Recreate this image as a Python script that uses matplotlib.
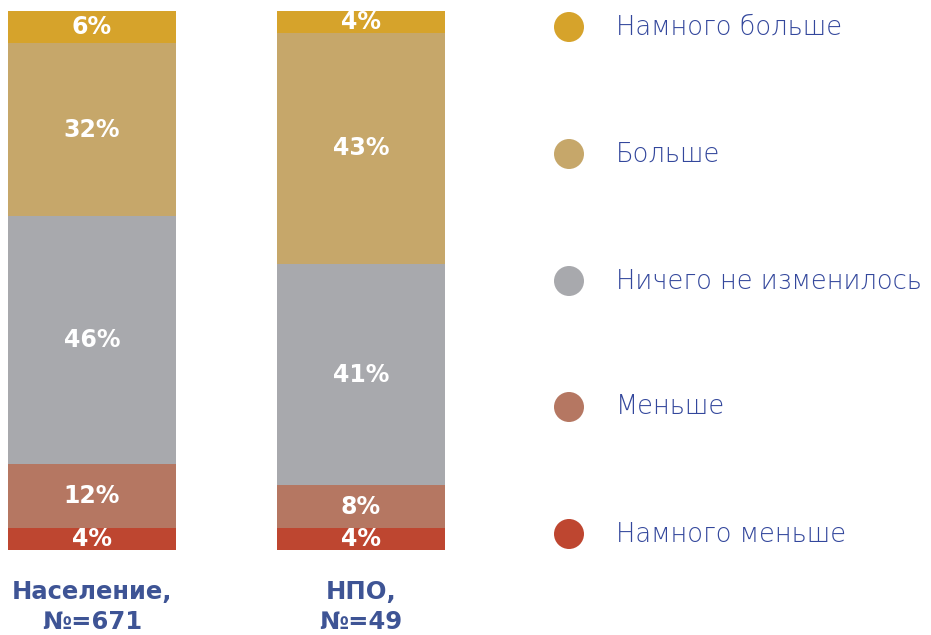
import matplotlib.pyplot as plt
from matplotlib.patches import Ellipse

plt.rcParams['font.family'] = ['DejaVu Sans']

groups = ["Население,\n№=671", "НПО,\n№=49"]
categories = ["Намного меньше", "Меньше", "Ничего не изменилось", "Больше", "Намного больше"]
colors = ["#BE4630", "#B57762", "#A8A9AD", "#C6A76A", "#D6A32B"]
# shares per category, bottom to top, for each group
values = {
    "Население,\n№=671": [4, 12, 46, 32, 6],
    "НПО,\n№=49": [4, 8, 41, 43, 4],
}

W, H = 931, 635
fig = plt.figure(figsize=(W / 100, H / 100), dpi=100)

# bar area: from x=8 to x=445 px, y=11 to 550 px
ax = fig.add_axes([8 / W, 85 / H, 437 / W, 539 / H])
bar_w = 0.625
for i, g in enumerate(groups):
    bottom = 0
    for v, c in zip(values[g], colors):
        ax.bar(i, v, bottom=bottom, width=bar_w, color=c, linewidth=0)
        ax.text(i, bottom + v / 2, f"{v}%", ha="center", va="center",
                color="white", fontsize=17, fontweight="bold")
        bottom += v
    ax.text(i, -5.5, g, ha="center", va="top", color="#3E5495",
            fontsize=17.5, fontweight="bold", linespacing=1.35)
ax.set_xlim(-bar_w / 2, 1 + bar_w / 2)
ax.set_ylim(0, 100)
ax.axis("off")

# legend column, top entry first
lax = fig.add_axes([0, 0, 1, 1])
lax.set_xlim(0, W)
lax.set_ylim(H, 0)
lax.axis("off")
legend_y = [27, 154, 281, 407, 534]
for y, cat, c in zip(legend_y, categories[::-1], colors[::-1]):
    lax.add_patch(Ellipse((569, y), 30, 30, color=c, linewidth=0))
    lax.text(616, y, cat, ha="left", va="center", color="#33479C",
             fontsize=18.5, fontweight=200)

fig.savefig("out.png", dpi=100)
